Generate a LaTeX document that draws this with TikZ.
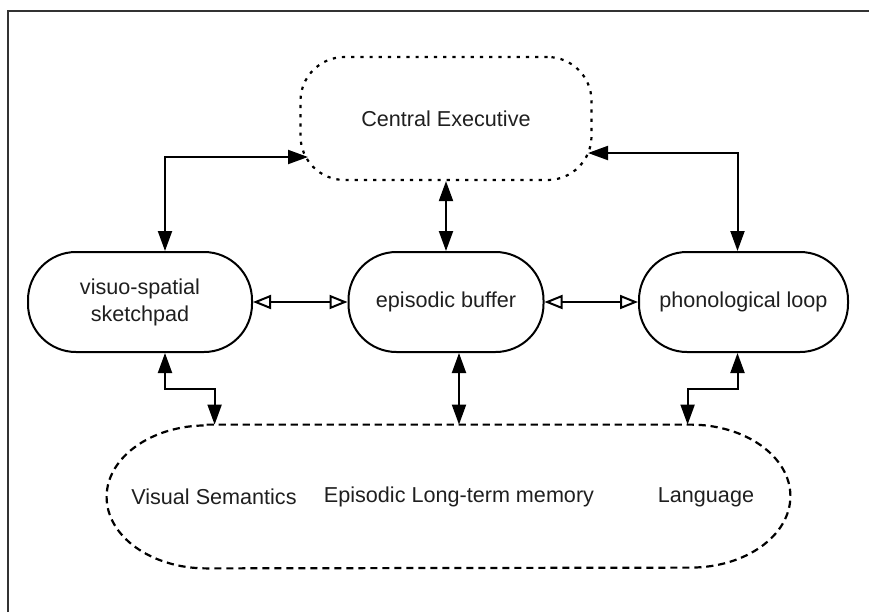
\documentclass[tikz,border=0pt]{standalone}
\usepackage{fontspec}
\setmainfont{Liberation Sans}
\usetikzlibrary{arrows.meta}
\begin{document}
\begin{tikzpicture}[x=0.5pt,y=-0.5pt,
  font=\fontsize{10.8}{13.5}\selectfont,
  every node/.style={text=black!88},
  stadium/.style={draw, line width=1pt, rounded corners=24pt, align=center,
    inner sep=0pt, minimum height=50pt},
  cebox/.style={draw, line width=1.1pt, dash pattern=on 1.6pt off 3pt,
    rounded corners=22pt, inner sep=0pt, minimum width=145.5pt, minimum height=61.5pt},
  ltmline/.style={line width=1.1pt, dash pattern=on 3.6pt off 2.4pt},
  fdbl/.style={line width=1pt, {Triangle[length=10pt,width=7pt]}-{Triangle[length=10pt,width=7pt]}},
  odbl/.style={line width=1pt, {Triangle[open,length=9pt,width=7pt,line width=1pt]}-{Triangle[open,length=9pt,width=7pt,line width=1pt]}}
]
\useasboundingbox (0,0) rectangle (869,612);
% frame edges
\draw[line width=1.1pt, black!80] (8,612) -- (8,11) -- (869,11);

% components
\node[cebox] (ce) at (446,118.5) {Central Executive};
\node[stadium, minimum width=112pt] (vss) at (140,302) {visuo-spatial\\sketchpad};
\node[stadium, minimum width=97.5pt] (eb) at (446,302) {episodic buffer};
\node[stadium, minimum width=104.5pt] (pl) at (743.5,302) {phonological loop};

% long-term memory
\node[minimum width=341.5pt, minimum height=71.5pt, inner sep=0pt] (ltm) at (448.5,496.5) {};
\draw[ltmline] ([xshift=50pt]ltm.north west) -- ([xshift=-50pt]ltm.north east)
  arc[start angle=90, end angle=0, x radius=50pt, y radius=35.75pt]
  arc[start angle=0, end angle=-90, x radius=50pt, y radius=35.75pt]
  -- ([xshift=50pt]ltm.south west)
  arc[start angle=270, end angle=180, x radius=50pt, y radius=35.75pt]
  arc[start angle=180, end angle=90, x radius=50pt, y radius=35.75pt] -- cycle;
\node (vsem) at (214,497) {Visual Semantics};
\node (eltm) at (459,497) {Episodic Long-term memory};
\node (lang) at (706,497) {Language};

% links to the central executive
\coordinate (ceL) at (308,157);
\coordinate (ceR) at (588,153);
\draw[fdbl] ([xshift=12.5pt]vss.north) |- (ceL);
\draw[fdbl] ([xshift=-3pt]pl.north) |- (ceR);
\draw[fdbl] (ce.south) -- (eb.north);

% links between the slave systems
\draw[odbl] (vss.east) -- (eb.west);
\draw[odbl] (eb.east) -- (pl.west);

% links to long-term memory
\draw[fdbl] ([xshift=12.5pt]vss.south) -- ++(0,36) -| ([xshift=54pt]ltm.north west);
\draw[fdbl] ([xshift=6.5pt]eb.south) -- ([xshift=6.5pt]eb.south |- ltm.north);
\draw[fdbl] ([xshift=-3pt]pl.south) -- ++(0,36) -| ([xshift=290.5pt]ltm.north west);
\end{tikzpicture}
\end{document}
